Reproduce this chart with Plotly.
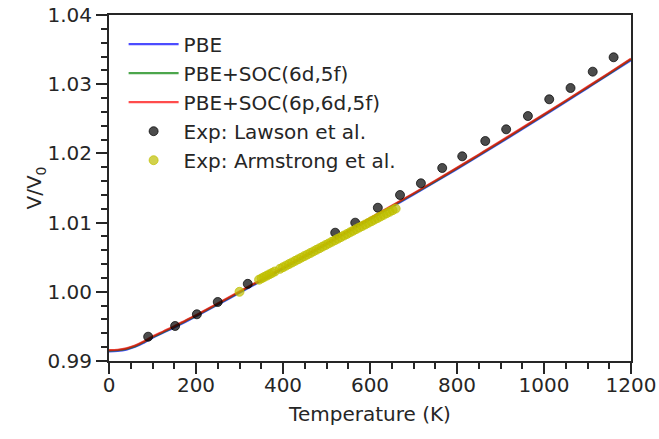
import plotly.graph_objects as go

# DFT curves
temp_calc = [0, 20, 40, 60, 80, 100, 125, 150, 175, 200, 250, 300, 350, 400, 450, 500,
             550, 600, 650, 700, 750, 800, 850, 900, 950, 1000, 1050, 1100, 1150, 1200]
v_pbe = [0.99140, 0.99145, 0.99165, 0.99205, 0.99265, 0.99335, 0.99410, 0.99485, 0.99565, 0.99645,
         0.99815, 0.99985, 1.00157, 1.00331, 1.00507, 1.00685, 1.00865, 1.01045, 1.01225, 1.01405,
         1.01588, 1.01775, 1.01965, 1.02157, 1.02352, 1.02548, 1.02745, 1.02945, 1.03145, 1.03348]
v_soc_df = [0.99150, 0.99155, 0.99175, 0.99215, 0.99275, 0.99345, 0.99420, 0.99495, 0.99575, 0.99655,
            0.99825, 0.99995, 1.00167, 1.00341, 1.00517, 1.00695, 1.00875, 1.01055, 1.01235, 1.01415,
            1.01598, 1.01785, 1.01975, 1.02167, 1.02362, 1.02558, 1.02755, 1.02955, 1.03155, 1.03360]
v_soc_pdf = [0.99158, 0.99163, 0.99183, 0.99223, 0.99283, 0.99353, 0.99428, 0.99503, 0.99583, 0.99663,
             0.99833, 1.00003, 1.00175, 1.00349, 1.00525, 1.00703, 1.00883, 1.01063, 1.01243, 1.01423,
             1.01606, 1.01793, 1.01983, 1.02175, 1.02370, 1.02566, 1.02763, 1.02963, 1.03163, 1.03368]

# Experiment: Lawson et al.
temp_lawson = [90, 152, 202, 250, 319, 520, 566, 618, 669, 717, 766, 812, 865, 913, 963,
               1012, 1061, 1112, 1160]
v_lawson = [0.99351, 0.99506, 0.99675, 0.99853, 1.00115, 1.00854, 1.00999, 1.01215, 1.01399,
            1.01568, 1.01789, 1.01958, 1.02179, 1.02348, 1.02540, 1.02782, 1.02945, 1.03181, 1.03389]

# Experiment: Armstrong et al.
temp_arm = [300, 345, 351, 357, 363, 369, 375, 381, 393, 400, 407, 414, 421, 428, 435, 442, 449,
            456, 463, 470, 477, 484, 491, 498, 505, 512, 519, 526, 533, 540, 547, 554, 561, 568,
            575, 582, 589, 596, 603, 610, 617, 624, 631, 638, 645, 652, 659]
v_arm = [1.00000, 1.00175, 1.00195, 1.00215, 1.00234, 1.00254, 1.00273, 1.00293, 1.00332, 1.00355,
         1.00378, 1.00401, 1.00424, 1.00447, 1.00470, 1.00493, 1.00516, 1.00538, 1.00561, 1.00584,
         1.00607, 1.00630, 1.00653, 1.00676, 1.00699, 1.00722, 1.00744, 1.00767, 1.00790, 1.00813,
         1.00836, 1.00859, 1.00882, 1.00905, 1.00928, 1.00950, 1.00973, 1.00996, 1.01019, 1.01042,
         1.01065, 1.01088, 1.01111, 1.01134, 1.01156, 1.01179, 1.01202]

x_ticks = [0, 200, 400, 600, 800, 1000, 1200]
y_ticks = [0.99, 1.00, 1.01, 1.02, 1.03, 1.04]
y_tick_text = ["0.99", "1.00", "1.01", "1.02", "1.03", "1.04"]

FONT = "DejaVu Sans"
TXT = "#262626"
FS = 20

fig = go.Figure()
fig.add_trace(go.Scatter(x=temp_calc, y=v_pbe, mode="lines", name="PBE", legendgroup="a",
                         line=dict(color="rgba(0,0,255,0.7)", width=2.2, shape="spline")))
fig.add_trace(go.Scatter(x=temp_calc, y=v_soc_df, mode="lines", name="PBE+SOC(6d,5f)", legendgroup="b",
                         line=dict(color="rgba(0,128,0,0.7)", width=2.2, shape="spline")))
fig.add_trace(go.Scatter(x=temp_calc, y=v_soc_pdf, mode="lines", name="PBE+SOC(6p,6d,5f)", legendgroup="c",
                         line=dict(color="rgba(255,0,0,0.7)", width=2.2, shape="spline")))
fig.add_trace(go.Scatter(x=temp_lawson, y=v_lawson, mode="markers", name="Exp: Lawson et al.", legendgroup="d",
                         marker=dict(color="rgba(0,0,0,0.7)", size=9,
                                     line=dict(color="rgba(0,0,0,0.7)", width=1))))
fig.add_trace(go.Scatter(x=temp_arm, y=v_arm, mode="markers", name="Exp: Armstrong et al.", legendgroup="e",
                         marker=dict(color="rgba(191,191,0,0.7)", size=9,
                                     line=dict(color="rgba(191,191,0,0.7)", width=1))))

axis_common = dict(
    showline=True, linecolor="#262626", linewidth=2, mirror=True,
    ticks="outside", ticklen=11, tickwidth=2, tickcolor="#262626",
    showgrid=False, zeroline=False, automargin=False,
    tickfont=dict(family=FONT, size=FS, color=TXT),
)

fig.update_xaxes(range=[0, 1200], tickvals=x_ticks, ticktext=[str(v) for v in x_ticks],
                 ticklabelstandoff=-6,
                 title=dict(text="Temperature (K)", font=dict(family=FONT, size=FS, color=TXT), standoff=11),
                 minor=dict(dtick=50, ticks="outside", ticklen=6, tickwidth=1.5, tickcolor="#262626"),
                 **axis_common)
fig.update_yaxes(range=[0.99, 1.04], tickvals=y_ticks, ticktext=y_tick_text,
                 title=dict(text="V/V<sub>0</sub>", font=dict(family=FONT, size=FS, color=TXT), standoff=0),
                 minor=dict(dtick=0.002, tick0=0.99, ticks="outside", ticklen=6, tickwidth=1.5, tickcolor="#262626"),
                 **axis_common)

fig.update_layout(
    width=659, height=439,
    margin=dict(l=109, r=28, t=15, b=78),
    plot_bgcolor="white", paper_bgcolor="white",
    font=dict(family=FONT, size=FS, color=TXT),
    legend=dict(x=0.028, y=0.972, xanchor="left", yanchor="top",
                bgcolor="rgba(255,255,255,0)", borderwidth=0,
                font=dict(family=FONT, size=FS, color=TXT),
                itemwidth=50, tracegroupgap=0),
    showlegend=True,
)

fig.write_html("out.html",
               config={"displayModeBar": False},
               post_script="document.body.style.margin='0';document.body.style.overflow='hidden';")
